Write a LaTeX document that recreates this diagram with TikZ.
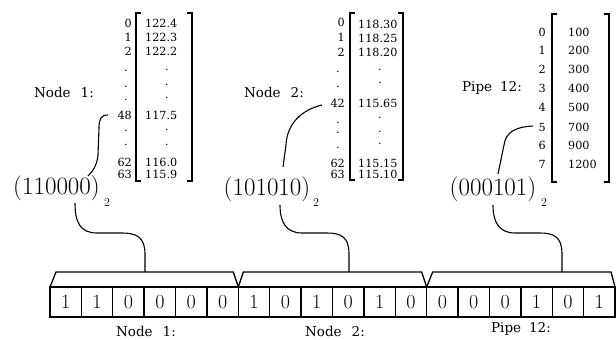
\documentclass[tikz,border=0pt]{standalone}
\usepackage{fontspec}
\usetikzlibrary{calc}
\newfontfamily\smf{DejaVu Serif}
\begin{document}
\begin{tikzpicture}[x=1pt,y=-1pt,
  lbl/.style={font=\smf\fontsize{13.5}{16}\selectfont, inner sep=0},
  val/.style={font=\smf\fontsize{11.2}{13}\selectfont, inner sep=0, anchor=west},
  idx/.style={font=\smf\fontsize{11.2}{13}\selectfont, inner sep=0, anchor=east},
  dotn/.style={font=\smf\fontsize{11.2}{13}\selectfont, inner sep=0},
  big/.style={font=\fontsize{25}{29}\selectfont, inner sep=0, anchor=base},
  subn/.style={font=\fontsize{12}{14}\selectfont, inner sep=0, anchor=base west},
  cell/.style={draw, line width=1.4pt, minimum width=31.39pt, minimum height=30pt,
    inner sep=0, outer sep=0, font=\fontsize{20}{24}\selectfont, anchor=north west},
  brk/.style={line width=1.4pt},
  conn/.style={line width=1.1pt},
  brace/.style={line width=1.3pt, line join=miter}]
\useasboundingbox (0,0) rectangle (616,340);

% ---- cells
\foreach \b [count=\i from 0] in {1,1,0,0,0,0,1,0,1,0,1,0,0,0,0,1,0,1}
  \node[cell] (c\i) at ({50+\i*31.39},287) {\b};

% ---- braces
\draw[brace] (c0.north west) -- ($(c0.north west)+(6,-15)$)
  -- ($(c5.north east)+(-5,-15)$) -- (c5.north east);
\draw[brace] (c6.north west) -- ($(c6.north west)+(5,-15)$)
  -- ($(c11.north east)+(-5,-15)$) -- (c11.north east);
\draw[brace] (c12.north west) -- ($(c12.north west)+(6,-15)$)
  -- ($(c17.north east)+(-4,-15)$) -- (c17.north east);
\coordinate (b1) at (145,272);
\coordinate (b2) at (349,272);
\coordinate (b3) at (562,272);

% ---- big labels
\node[big] (L1) at (56.5,194) {(110000)};
\node[subn] (S1) at (104,206) {2};
\node[big] (L2) at (267,195) {(101010)};
\node[subn] (S2) at (313,206) {2};
\node[big] (L3) at (493,195) {(000101)};
\node[subn] (S3) at (541,206) {2};
\coordinate (L1b) at (75,203);
\coordinate (L2b) at (280,205);
\coordinate (L3b) at (493,205);
\coordinate (L1t) at (88,176);
\coordinate (L2t) at (283,167);
\coordinate (L3t) at (498,174);

% ---- connectors bottom
\draw[conn] (b1) -- (145,254) .. controls (145,237) and (136,233) .. (122,233)
  -- (97,233) .. controls (80,233) and (75,222) .. (L1b);
\draw[conn] (b2) -- (349,254) .. controls (349,237) and (341,233) .. (327,233)
  -- (302,233) .. controls (286,233) and (280,222) .. (L2b);
\draw[conn] (b3) -- (562,254) .. controls (562,237) and (554,233) .. (540,233)
  -- (515,233) .. controls (499,233) and (493,222) .. (L3b);

% ---- matrix 1
\node[lbl] (N1) at (64,92) {Node\hspace{10pt}1:};
\draw[brk] (141,13) -- (136,13) -- (136,181) -- (141,181);
\draw[brk] (187,13) -- (192,13) -- (192,181) -- (187,181);
\foreach \t/\y [count=\k] in {0/23,1/37,2/51,48/115,62/162,63/174}
  \node[idx] (a\k) at (132,\y) {\t};
\foreach \y [count=\k] in {71,87,100,131,145}
  \node[dotn] (ad\k) at (126,\y) {.};
\foreach \t/\y [count=\k] in {122.4/23,122.3/37,122.2/51,117.5/115,116.0/162,115.9/174}
  \node[val] (v\k) at (145,\y) {\t};
\foreach \y [count=\k] in {70,85,98,130,145}
  \node[dotn] (vd\k) at (167,\y) {.};
\coordinate (m1) at (108,115);
\draw[conn] (m1) .. controls (101,115) and (99,119) .. (99,128) -- (98,155)
  .. controls (97,166) and (92,172) .. (L1t);

% ---- matrix 2
\node[lbl] (N2) at (274,92) {Node\hspace{10pt}2:};
\draw[brk] (355,13) -- (350,13) -- (350,180) -- (355,180);
\draw[brk] (398,13) -- (403,13) -- (403,180) -- (398,180);
\foreach \t/\y [count=\k] in {0/22,1/37,2/52,42/103,62/163,63/174}
  \node[idx] (e\k) at (345,\y) {\t};
\foreach \y [count=\k] in {72,87,123,133,148}
  \node[dotn] (ed\k) at (338,\y) {.};
\foreach \t/\y [count=\k] in {118.30/24,118.25/38,118.20/52,115.65/103,115.15/163,115.10/174}
  \node[val] (w\k) at (358,\y) {\t};
\foreach \y [count=\k] in {70,83,118,132,144}
  \node[dotn] (wd\k) at (380,\y) {.};
\coordinate (m2) at (322,105);
\draw[conn] (m2) .. controls (301,110) and (287,124) .. (286,145) -- (L2t);

% ---- matrix 3
\node[lbl] (N3) at (492,88) {Pipe\hspace{8pt}12:};
\draw[brk] (557,14) -- (552,14) -- (552,182) -- (557,182);
\draw[brk] (604,14) -- (609,14) -- (609,182) -- (604,182);
\foreach \t/\v/\y [count=\k] in {0/100/32,1/200/50,2/300/69,3/400/88,4/500/107,5/700/127,6/900/145,7/1200/164}{
  \node[idx] (p\k) at (546,\y) {\t};
  \node[val] (q\k) at (568,\y) {\v};
}
\coordinate (m3) at (533,126);
\draw[conn] (m3) .. controls (515,127) and (506,132) .. (504,145) -- (L3t);

% ---- bottom labels
\node[lbl] (B1) at (146,331.5) {Node\hspace{10pt}1:};
\node[lbl] (B2) at (335,331.5) {Node\hspace{10pt}2:};
\node[lbl] (B3) at (521,329) {Pipe\hspace{8pt}12:};
\end{tikzpicture}
\end{document}
